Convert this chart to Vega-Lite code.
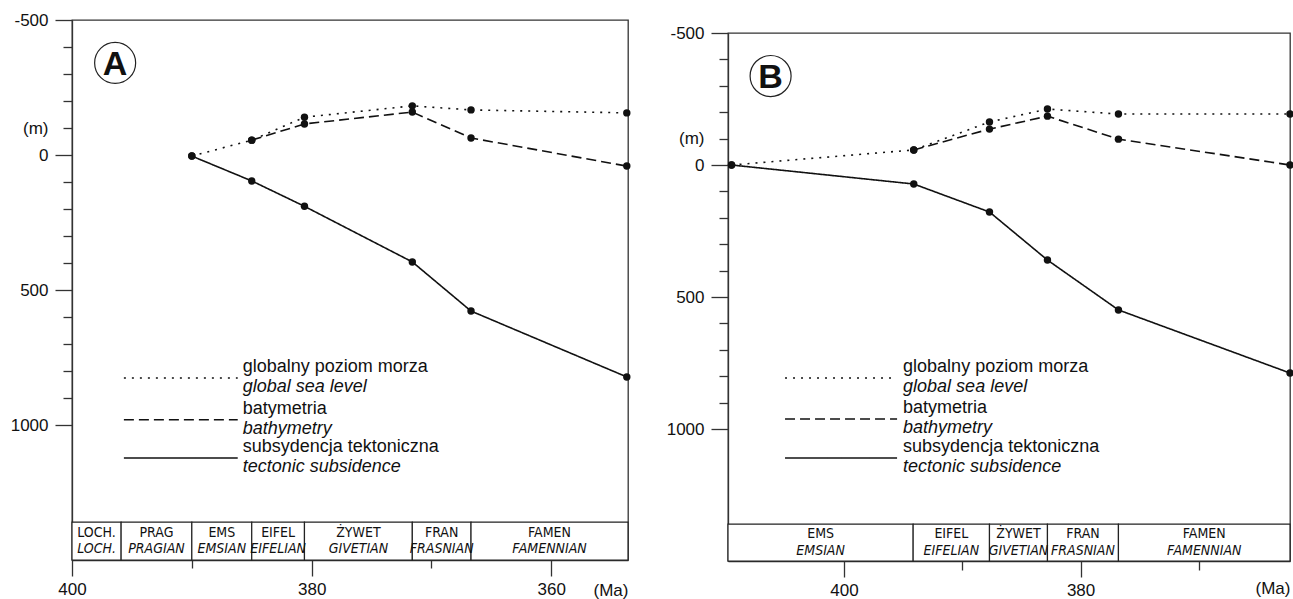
{
  "$schema": "https://vega.github.io/schema/vega-lite/v6.json",
  "background": "white",
  "padding": {"left": 9, "top": 10, "right": 0, "bottom": 0},
  "spacing": 33,
  "config": {
    "view": {"stroke": "#333", "strokeWidth": 1.3},
    "axis": {"domainColor": "#333", "tickColor": "#333", "labelColor": "#111", "labelFont": "Liberation Sans", "titleFont": "Liberation Sans", "titleColor": "#111", "grid": false, "domainWidth": 1.3, "tickWidth": 1.3},
    "text": {"font": "Liberation Sans", "color": "#111"}
  },
  "datasets": {
    "seriesA": [
      {"series": "sea", "ma": 390, "m": 4}, {"series": "sea", "ma": 385, "m": -55}, {"series": "sea", "ma": 380.6, "m": -140}, {"series": "sea", "ma": 371.6, "m": -182}, {"series": "sea", "ma": 366.7, "m": -167}, {"series": "sea", "ma": 353.7, "m": -156},
      {"series": "bathy", "ma": 385, "m": -55}, {"series": "bathy", "ma": 380.6, "m": -115}, {"series": "bathy", "ma": 371.6, "m": -159}, {"series": "bathy", "ma": 366.7, "m": -63}, {"series": "bathy", "ma": 353.7, "m": 41},
      {"series": "subs", "ma": 390, "m": 4}, {"series": "subs", "ma": 385, "m": 96}, {"series": "subs", "ma": 380.6, "m": 190}, {"series": "subs", "ma": 371.6, "m": 396}, {"series": "subs", "ma": 366.7, "m": 578}, {"series": "subs", "ma": 353.7, "m": 822}
    ],
    "seriesB": [
      {"series": "sea", "ma": 409.5, "m": 0}, {"series": "sea", "ma": 394.1, "m": -57}, {"series": "sea", "ma": 387.7, "m": -163}, {"series": "sea", "ma": 382.8, "m": -212}, {"series": "sea", "ma": 376.8, "m": -193}, {"series": "sea", "ma": 362.3, "m": -193},
      {"series": "bathy", "ma": 394.1, "m": -57}, {"series": "bathy", "ma": 387.7, "m": -136}, {"series": "bathy", "ma": 382.8, "m": -185}, {"series": "bathy", "ma": 376.8, "m": -98}, {"series": "bathy", "ma": 362.3, "m": 0},
      {"series": "subs", "ma": 409.5, "m": 0}, {"series": "subs", "ma": 394.1, "m": 72}, {"series": "subs", "ma": 387.7, "m": 178}, {"series": "subs", "ma": 382.8, "m": 360}, {"series": "subs", "ma": 376.8, "m": 549}, {"series": "subs", "ma": 362.3, "m": 788}
    ],
    "stagesA": [
      {"pl": "LOCH.", "en": "LOCH.", "start": 400, "end": 395.9},
      {"pl": "PRAG", "en": "PRAGIAN", "start": 395.9, "end": 390},
      {"pl": "EMS", "en": "EMSIAN", "start": 390, "end": 385},
      {"pl": "EIFEL", "en": "EIFELIAN", "start": 385, "end": 380.6},
      {"pl": "ŻYWET", "en": "GIVETIAN", "start": 380.6, "end": 371.6},
      {"pl": "FRAN", "en": "FRASNIAN", "start": 371.6, "end": 366.7},
      {"pl": "FAMEN", "en": "FAMENNIAN", "start": 366.7, "end": 353.6}
    ],
    "stagesB": [
      {"pl": "EMS", "en": "EMSIAN", "start": 409.8, "end": 394.15},
      {"pl": "EIFEL", "en": "EIFELIAN", "start": 394.15, "end": 387.7},
      {"pl": "ŻYWET", "en": "GIVETIAN", "start": 387.7, "end": 382.8},
      {"pl": "FRAN", "en": "FRASNIAN", "start": 382.8, "end": 376.8},
      {"pl": "FAMEN", "en": "FAMENNIAN", "start": 376.8, "end": 362.3}
    ],
    "legendA": [
      {"series": "sea", "pl": "globalny poziom morza", "en": "global sea level", "ma_from": 395.67, "ma_to": 386.17, "m": 826},
      {"series": "bathy", "pl": "batymetria", "en": "bathymetry", "ma_from": 395.67, "ma_to": 386.17, "m": 981},
      {"series": "subs", "pl": "subsydencja tektoniczna", "en": "tectonic subsidence", "ma_from": 395.67, "ma_to": 386.17, "m": 1122}
    ],
    "legendB": [
      {"series": "sea", "pl": "globalny poziom morza", "en": "global sea level", "ma_from": 404.98, "ma_to": 395.51, "m": 807},
      {"series": "bathy", "pl": "batymetria", "en": "bathymetry", "ma_from": 404.98, "ma_to": 395.51, "m": 962},
      {"series": "subs", "pl": "subsydencja tektoniczna", "en": "tectonic subsidence", "ma_from": 404.98, "ma_to": 395.51, "m": 1110}
    ],
    "badgeA": [{"ma": 396.4, "m": -341, "letter": "A"}],
    "badgeB": [{"ma": 406.2, "m": -337, "letter": "B"}]
  },
  "hconcat": [
    {
      "width": 556,
      "height": 540,
      "encoding": {
        "x": {"type": "quantitative", "scale": {"domain": [353.6, 400], "reverse": true, "nice": false, "zero": false},
          "axis": {"values": [400, 390, 380, 370, 360], "tickSize": 16, "encoding": {"ticks": {"y2": {"condition": {"test": "datum.value % 20 === 0", "value": 16}, "value": 8}}}, "labelExpr": "datum.value % 20 === 0 ? '' + datum.value : ''", "labelFontSize": 17, "labelPadding": 5, "labelFlush": false, "labelOverlap": false, "title": "(Ma)", "titleAnchor": "start", "titleAlign": "right", "titleFontSize": 17, "titleFontWeight": "normal", "titleBaseline": "middle", "titleY": 30}},
        "y": {"type": "quantitative", "scale": {"domain": [-500, 1500], "reverse": true, "nice": false, "zero": false},
          "axis": {"values": [-500, -400, -300, -200, -100, 0, 100, 200, 300, 400, 500, 600, 700, 800, 900, 1000], "tickSize": 17, "encoding": {"ticks": {"x2": {"condition": {"test": "datum.value % 500 === 0", "value": -17}, "value": -9}}}, "labelPadding": 7, "labelExpr": "datum.value === -100 ? '(m)' : (datum.value % 500 === 0 ? '' + datum.value : '')", "labelFontSize": 17, "labelFlush": false, "labelOverlap": false, "title": null}}
      },
      "layer": [
        {
          "data": {"name": "stagesA"},
          "mark": {"type": "rect", "fill": "white", "stroke": "#222", "strokeWidth": 1.2},
          "encoding": {
            "x": {"field": "start"},
            "x2": {"field": "end"},
            "y": {"datum": 1360},
            "y2": {"datum": 1500}
          }
        },
        {
          "data": {"name": "stagesA"},
          "transform": [{"calculate": "(datum.start + datum.end) / 2", "as": "mid"}],
          "mark": {"type": "text", "font": "Liberation Sans Narrow, DejaVu Sans Condensed, sans-serif", "fontSize": 14, "baseline": "middle", "align": "center"},
          "encoding": {
            "x": {"field": "mid"},
            "y": {"datum": 1400},
            "text": {"field": "pl"}
          }
        },
        {
          "data": {"name": "stagesA"},
          "transform": [{"calculate": "(datum.start + datum.end) / 2", "as": "mid"}],
          "mark": {"type": "text", "font": "Liberation Sans Narrow, DejaVu Sans Condensed, sans-serif", "fontSize": 14, "fontStyle": "italic", "baseline": "middle", "align": "center"},
          "encoding": {
            "x": {"field": "mid"},
            "y": {"datum": 1458},
            "text": {"field": "en"}
          }
        },
        {
          "data": {"name": "seriesA"},
          "mark": {"type": "line", "color": "#111", "strokeWidth": 1.6},
          "encoding": {
            "x": {"field": "ma"},
            "y": {"field": "m"},
            "strokeDash": {"field": "series", "type": "nominal", "scale": {"domain": ["sea", "bathy", "subs"], "range": [[2, 6], [10, 5], [1, 0]]}, "legend": null}
          }
        },
        {
          "data": {"name": "seriesA"},
          "mark": {"type": "point", "filled": true, "shape": "circle", "size": 55, "color": "#111", "opacity": 1},
          "encoding": {
            "x": {"field": "ma"},
            "y": {"field": "m"}
          }
        },
        {
          "data": {"name": "legendA"},
          "mark": {"type": "rule", "color": "#111", "strokeWidth": 1.5},
          "encoding": {
            "x": {"field": "ma_from"},
            "x2": {"field": "ma_to"},
            "y": {"field": "m"},
            "strokeDash": {"field": "series", "type": "nominal", "legend": null}
          }
        },
        {
          "data": {"name": "legendA"},
          "mark": {"type": "text", "fontSize": 18, "align": "left", "baseline": "middle", "dx": 5, "dy": -11},
          "encoding": {
            "x": {"field": "ma_to"},
            "y": {"field": "m"},
            "text": {"field": "pl"}
          }
        },
        {
          "data": {"name": "legendA"},
          "mark": {"type": "text", "fontSize": 18, "fontStyle": "italic", "align": "left", "baseline": "middle", "dx": 5, "dy": 9},
          "encoding": {
            "x": {"field": "ma_to"},
            "y": {"field": "m"},
            "text": {"field": "en"}
          }
        },
        {
          "data": {"name": "badgeA"},
          "mark": {"type": "point", "shape": "circle", "filled": false, "size": 1681, "stroke": "#222", "strokeWidth": 1.2, "opacity": 1},
          "encoding": {
            "x": {"field": "ma"},
            "y": {"field": "m"}
          }
        },
        {
          "data": {"name": "badgeA"},
          "mark": {"type": "text", "fontSize": 34, "fontWeight": 900, "align": "center", "baseline": "middle", "dy": 2},
          "encoding": {
            "x": {"field": "ma"},
            "y": {"field": "m"},
            "text": {"field": "letter"}
          }
        }
      ]
    },
    {
      "bounds": "flush",
      "spacing": 12,
      "vconcat": [
        {
          "width": 562,
          "height": 1,
          "view": {"stroke": null},
          "data": {"values": []},
          "mark": "text"
        },
        {
          "width": 562,
          "height": 528,
          "encoding": {
            "x": {"type": "quantitative", "scale": {"domain": [362.3, 409.8], "reverse": true, "nice": false, "zero": false},
              "axis": {"values": [410, 400, 390, 380, 370], "tickSize": 16, "encoding": {"ticks": {"y2": {"condition": {"test": "datum.value % 20 === 0", "value": 16}, "value": 9}}}, "labelExpr": "datum.value % 20 === 0 ? '' + datum.value : ''", "labelFontSize": 17, "labelPadding": 5, "labelFlush": false, "labelOverlap": false, "title": "(Ma)", "titleAnchor": "start", "titleAlign": "right", "titleFontSize": 17, "titleFontWeight": "normal", "titleBaseline": "middle", "titleY": 27}},
            "y": {"type": "quantitative", "scale": {"domain": [-500, 1500], "reverse": true, "nice": false, "zero": false},
              "axis": {"values": [-500, -400, -300, -200, -100, 0, 100, 200, 300, 400, 500, 600, 700, 800, 900, 1000], "tickSize": 17, "encoding": {"ticks": {"x2": {"condition": {"test": "datum.value % 500 === 0", "value": -17}, "value": -9}}}, "labelPadding": 7, "labelExpr": "datum.value === -100 ? '(m)' : (datum.value % 500 === 0 ? '' + datum.value : '')", "labelFontSize": 17, "labelFlush": false, "labelOverlap": false, "title": null}}
          },
          "layer": [
            {
              "data": {"name": "stagesB"},
              "mark": {"type": "rect", "fill": "white", "stroke": "#222", "strokeWidth": 1.2},
              "encoding": {
                "x": {"field": "start"},
                "x2": {"field": "end"},
                "y": {"datum": 1360},
                "y2": {"datum": 1500}
              }
            },
            {
              "data": {"name": "stagesB"},
              "transform": [{"calculate": "(datum.start + datum.end) / 2", "as": "mid"}],
              "mark": {"type": "text", "font": "Liberation Sans Narrow, DejaVu Sans Condensed, sans-serif", "fontSize": 14, "baseline": "middle", "align": "center"},
              "encoding": {
                "x": {"field": "mid"},
                "y": {"datum": 1398},
                "text": {"field": "pl"}
              }
            },
            {
              "data": {"name": "stagesB"},
              "transform": [{"calculate": "(datum.start + datum.end) / 2", "as": "mid"}],
              "mark": {"type": "text", "font": "Liberation Sans Narrow, DejaVu Sans Condensed, sans-serif", "fontSize": 14, "fontStyle": "italic", "baseline": "middle", "align": "center"},
              "encoding": {
                "x": {"field": "mid"},
                "y": {"datum": 1464},
                "text": {"field": "en"}
              }
            },
            {
              "data": {"name": "seriesB"},
              "mark": {"type": "line", "color": "#111", "strokeWidth": 1.6},
              "encoding": {
                "x": {"field": "ma"},
                "y": {"field": "m"},
                "strokeDash": {"field": "series", "type": "nominal", "scale": {"domain": ["sea", "bathy", "subs"], "range": [[2, 6], [10, 5], [1, 0]]}, "legend": null}
              }
            },
            {
              "data": {"name": "seriesB"},
              "mark": {"type": "point", "filled": true, "shape": "circle", "size": 55, "color": "#111", "opacity": 1},
              "encoding": {
                "x": {"field": "ma"},
                "y": {"field": "m"}
              }
            },
            {
              "data": {"name": "legendB"},
              "mark": {"type": "rule", "color": "#111", "strokeWidth": 1.5},
              "encoding": {
                "x": {"field": "ma_from"},
                "x2": {"field": "ma_to"},
                "y": {"field": "m"},
                "strokeDash": {"field": "series", "type": "nominal", "legend": null}
              }
            },
            {
              "data": {"name": "legendB"},
              "mark": {"type": "text", "fontSize": 18, "align": "left", "baseline": "middle", "dx": 6, "dy": -11},
              "encoding": {
                "x": {"field": "ma_to"},
                "y": {"field": "m"},
                "text": {"field": "pl"}
              }
            },
            {
              "data": {"name": "legendB"},
              "mark": {"type": "text", "fontSize": 18, "fontStyle": "italic", "align": "left", "baseline": "middle", "dx": 6, "dy": 9},
              "encoding": {
                "x": {"field": "ma_to"},
                "y": {"field": "m"},
                "text": {"field": "en"}
              }
            },
            {
              "data": {"name": "badgeB"},
              "mark": {"type": "point", "shape": "circle", "filled": false, "size": 1681, "stroke": "#222", "strokeWidth": 1.2, "opacity": 1},
              "encoding": {
                "x": {"field": "ma"},
                "y": {"field": "m"}
              }
            },
            {
              "data": {"name": "badgeB"},
              "mark": {"type": "text", "fontSize": 34, "fontWeight": 900, "align": "center", "baseline": "middle", "dy": 2},
              "encoding": {
                "x": {"field": "ma"},
                "y": {"field": "m"},
                "text": {"field": "letter"}
              }
            }
          ]
        }
      ]
    }
  ]
}
